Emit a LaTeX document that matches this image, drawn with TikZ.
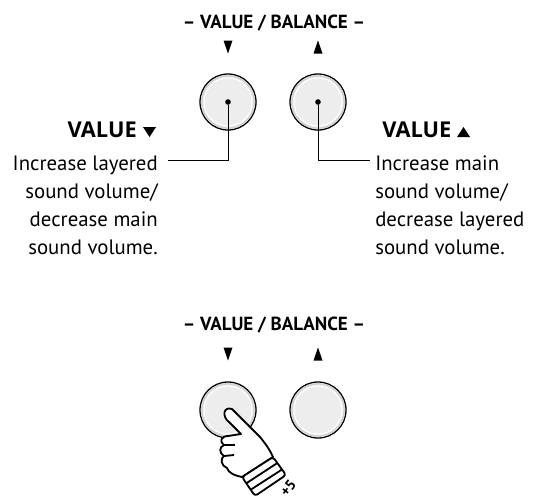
\documentclass[tikz,border=0pt]{standalone}
\usepackage{fontspec}
\setmainfont{PT Sans}
\newfontfamily\headfont{Open Sans}
\usetikzlibrary{positioning}

\tikzset{
  btn/.style={circle, draw=black, line width=0.9pt, fill=gray!14,
    minimum size=1.4cm, inner sep=0pt},
  pin/.style={circle, fill=black, minimum size=0.14cm, inner sep=0pt},
  lead/.style={line width=0.7pt},
  title/.style={font=\bfseries\fontsize{13.5}{16}\selectfont, inner sep=0pt},
  head/.style={font=\headfont\bfseries\fontsize{15.5}{17}\selectfont, inner sep=0pt},
  desc/.style={font=\fontsize{14.8}{19.9}\selectfont, inner sep=0pt},
  hand/.style={draw=black, fill=white, line width=1.3pt, line join=round},
}

\begin{document}
\begin{tikzpicture}[x=0.025cm, y=-0.025cm]
   \useasboundingbox (0,0) rectangle (544,502);

   % upper panel: the two buttons with their callouts
   \node[title, anchor=base] (titleT) at (274,28) {– VALUE / BALANCE –};
   \fill (223.5,40.5) -- (232.5,40.5) -- (228,53.5) -- cycle;
   \fill (313.5,53.5) -- (322.5,53.5) -- (318,40.5) -- cycle;

   \node[btn] (btnL) at (228,102) {};
   \node[btn] (btnR) at (318,102) {};

   % lower panel: the same buttons, finger on VALUE down
   \node[title, anchor=base] (titleB) at (274,330) {– VALUE / BALANCE –};
   \fill (223.5,347.5) -- (232.5,347.5) -- (228,360.5) -- cycle;
   \fill (313.5,360.5) -- (322.5,360.5) -- (318,347.5) -- cycle;

   \node[btn] (btnPL) at (228,410) {};
   \node[btn] (btnPR) at (318,410) {};

   % shading rings inside each button
   \foreach \b in {btnL,btnR,btnPL,btnPR} {
      \draw[gray!35, line width=1.1pt] (\b) circle (0.655cm);
      \draw[white, line width=0.7pt] (\b) circle (0.6cm);
   }

   \node[pin] (pinL) at (btnL) {};
   \node[pin] (pinR) at (btnR) {};

   % callout texts (base anchor sits on the last line)
   \node[head, anchor=base east] (headL) at (137,137) {VALUE};
   \fill (143,127) -- (156,127) -- (149.5,137) -- cycle;
   \node[desc, anchor=base east, align=right] (descL) at (158,254)
      {Increase layered\\sound volume/\\decrease main\\sound volume.};

   \node[head, anchor=base west] (headR) at (382,137) {VALUE};
   \fill (457,137) -- (470,137) -- (463.5,127) -- cycle;
   \node[desc, anchor=base west, align=left] (descR) at (375,254)
      {Increase main\\sound volume/\\decrease layered\\sound volume.};

   \coordinate (endL) at (168,160);
   \coordinate (endR) at (370,160);
   \draw[lead] (pinL) |- (endL);
   \draw[lead] (pinR) |- (endR);

   % pressing hand
   \filldraw[hand] (273,457) -- (242,477)
      .. controls (236,476) and (228,473) .. (227,468)
      .. controls (221,466) and (220,458) .. (224,456)
      .. controls (219,453) and (219,447) .. (224,445)
      .. controls (219,442) and (221,436) .. (228,436)
      -- (241,434)
      -- (229,422)
      .. controls (222,417) and (223,406) .. (232,409)
      -- (260,437)
      .. controls (265,443) and (270,450) .. (273,457) -- cycle;
   \draw[hand] (224,456) -- (234,455);
   \draw[hand] (224,445) -- (235,445);
   \filldraw[hand, rounded corners=2pt] (242,477) -- (273,457) -- (286,475) -- (255,496) -- cycle;
   \draw[hand] (246.3,483.3) -- (277.3,463);
   \draw[hand] (250.7,489.7) -- (281.7,469.7);
   \node[font=\bfseries\fontsize{10.5}{12}\selectfont, rotate=52, inner sep=0pt] (five) at (288,488) {+5};
\end{tikzpicture}
\end{document}
